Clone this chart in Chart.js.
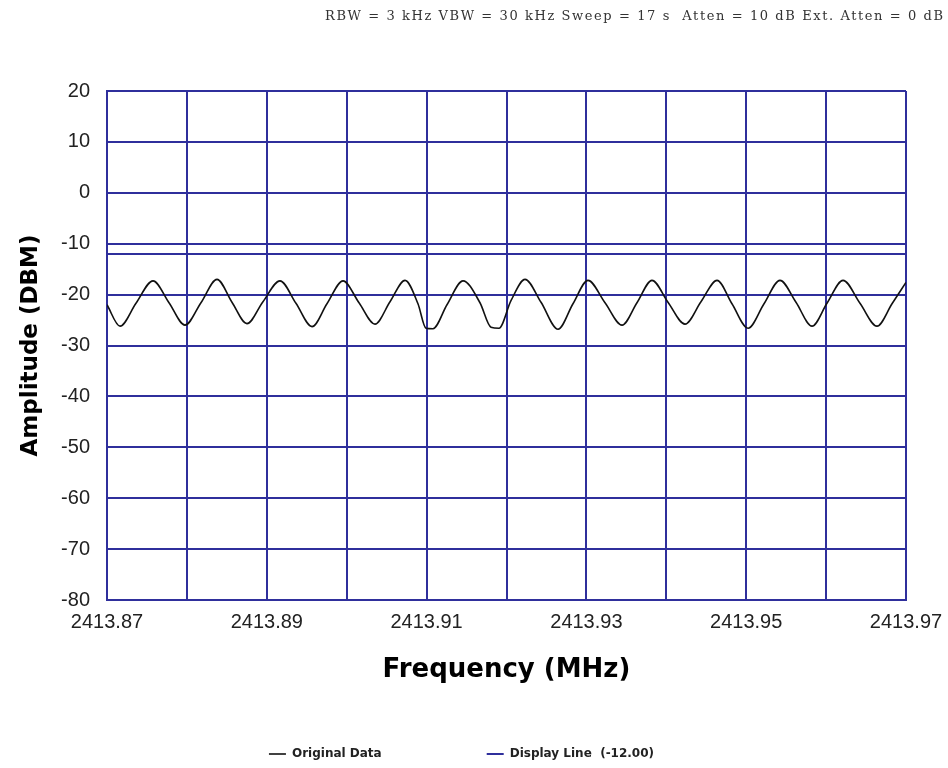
<!DOCTYPE html>
<html>
<head>
<meta charset="utf-8">
<title>Spectrum sweep</title>
<script src="https://cdn.jsdelivr.net/npm/chart.js@4.4.1/dist/chart.umd.min.js"></script>
<style>
  html, body { margin: 0; padding: 0; background: #fff; }
  canvas { display: block; }
</style>
</head>
<body>
<canvas id="sweep" width="948" height="768"></canvas>
<script>
// sweep settings shown above the plot
const headerText = 'RBW = 3 kHz VBW = 30 kHz Sweep = 17 s  Atten = 10 dB Ext. Atten = 0 dB'

// trace readings: frequency (MHz) and amplitude (dBm)
const freqMHz = [
  2413.87000, 2413.87163, 2413.87363, 2413.87576, 2413.87776, 2413.87976,
  2413.88176, 2413.88377, 2413.88564, 2413.88752, 2413.88952, 2413.89165,
  2413.89365, 2413.89566, 2413.89753, 2413.89954, 2413.90154, 2413.90354,
  2413.90542, 2413.90730, 2413.90892, 2413.90992, 2413.91080, 2413.91255,
  2413.91456, 2413.91668, 2413.91806, 2413.91906, 2413.92056, 2413.92232,
  2413.92432, 2413.92645, 2413.92832, 2413.93020, 2413.93233, 2413.93446,
  2413.93633, 2413.93821, 2413.94021, 2413.94234, 2413.94434, 2413.94635,
  2413.94822, 2413.95023, 2413.95223, 2413.95423, 2413.95623, 2413.95824,
  2413.96011, 2413.96212, 2413.96424, 2413.96637, 2413.96825, 2413.97000
]
const amplitude = [
  -22.0, -26.2, -21.7, -17.3, -21.6, -26.0,
  -21.6, -17.0, -21.5, -25.7, -21.4, -17.3,
  -21.7, -26.3, -21.8, -17.3, -21.6, -25.8,
  -21.4, -17.2, -21.8, -26.6, -26.7, -22.0,
  -17.3, -21.6, -26.4, -26.6, -21.2, -17.0,
  -21.5, -26.8, -21.8, -17.2, -21.6, -26.0,
  -21.6, -17.2, -21.5, -25.8, -21.4, -17.2,
  -21.8, -26.6, -21.8, -17.2, -21.5, -26.2,
  -21.7, -17.2, -21.7, -26.2, -21.8, -17.6
]

// display line level across the full span
const displayLevel = -12
const spanMHz = [2413.87, 2413.97]

const gridBlue = '#2f2f9c'

const headerPlugin = {
  id: 'header',
  afterDraw (chart) {
    const ctx = chart.ctx
    ctx.save()
    ctx.font = '13px "DejaVu Serif"'
    ctx.fillStyle = '#333'
    ctx.textBaseline = 'middle'
    ctx.textAlign = 'right'
    const plain = ctx.measureText(headerText).width
    const spacing = Math.max(0, (618 - plain) / (headerText.length - 1))
    ctx.letterSpacing = spacing + 'px'
    ctx.fillText(headerText, 943 + spacing, 17)
    ctx.restore()
  }
}

const ctx = document.getElementById('sweep')

new Chart(ctx, {
  type: 'line',
  data: {
    datasets: [
      {
        label: 'Original Data',
        data: freqMHz.map((f, i) => ({ x: f, y: amplitude[i] })),
        borderColor: '#111',
        borderWidth: 1.6,
        pointRadius: 0,
        cubicInterpolationMode: 'monotone'
      },
      {
        label: 'Display Line  (-12.00)',
        data: spanMHz.map(f => ({ x: f, y: displayLevel })),
        borderColor: gridBlue,
        borderWidth: 2,
        pointRadius: 0
      }
    ]
  },
  options: {
    responsive: false,
    animation: false,
    layout: { padding: { top: 91, left: 17, right: 42, bottom: -2 } },
    plugins: {
      tooltip: { enabled: false },
      legend: {
        position: 'bottom',
        labels: {
          usePointStyle: true,
          pointStyle: 'line',
          pointStyleWidth: 17,
          padding: 105,
          color: '#222',
          font: { family: '"DejaVu Sans"', size: 12, weight: 'bold' }
        }
      }
    },
    scales: {
      x: {
        type: 'linear',
        min: 2413.87,
        max: 2413.97,
        afterFit (scale) {
          scale.height = 43
          // end labels may hang past the plot edges
          scale.paddingLeft = 0
          scale.paddingRight = 0
        },
        ticks: {
          stepSize: 0.01,
          autoSkip: false,
          maxRotation: 0,
          padding: 10,
          color: '#222',
          font: { family: '"Liberation Sans"', size: 20 },
          callback: (value, index) => index % 2 === 0 ? value.toFixed(2) : ''
        },
        grid: { color: gridBlue, lineWidth: 2, drawTicks: false },
        border: { color: gridBlue, width: 2 },
        title: {
          display: true,
          text: 'Frequency (MHz)',
          color: '#000',
          font: { family: '"DejaVu Sans"', size: 26, weight: 'bold' },
          padding: { top: 0, bottom: -43 }
        }
      },
      y: {
        min: -80,
        max: 20,
        afterFit (scale) { scale.width = 90 },
        ticks: {
          stepSize: 10,
          padding: 17,
          color: '#222',
          font: { family: '"Liberation Sans"', size: 20 }
        },
        grid: { color: gridBlue, lineWidth: 2, drawTicks: false },
        border: { color: gridBlue, width: 2 },
        title: {
          display: true,
          text: 'Amplitude (DBM)',
          color: '#000',
          font: { family: '"DejaVu Sans"', size: 23, weight: 'bold' },
          padding: { top: 0, bottom: 0 }
        }
      }
    }
  },
  plugins: [headerPlugin]
})
</script>
</body>
</html>
